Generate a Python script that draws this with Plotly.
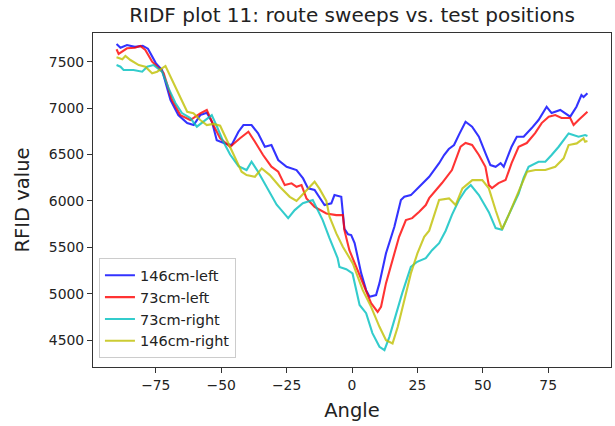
import plotly.graph_objects as go

# ---- data ----
blue_x = [-90, -88.5, -86, -83, -80, -78, -75, -72.6, -69.4, -66.4, -63, -60.5, -58, -55.5, -53.5, -51.7,
          -48.5, -46, -43.4, -41.5, -38.4, -35.9, -33.3, -30.8, -28.2, -25, -21.2, -18.7, -16.8, -14.3,
          -10.5, -7.9, -6.7, -4.1, -2.9, -1.5, -0.3, 1, 3.5, 5.4, 6.7, 9.2, 10.5, 13, 16.2, 18.7, 20, 22.5,
          25.7, 29.5, 33.3, 35.2, 37, 39, 41, 43.4, 45.9, 48.5, 51, 52.9, 54.9, 56.8, 58, 61, 63, 65.6,
          68.7, 71.3, 74.4, 76.3, 79.6, 83.4, 85.8, 87.7, 88.5, 90]
blue_y = [7690, 7650, 7680, 7660, 7670, 7640, 7485, 7410, 7088, 6925, 6840, 6818, 6925, 6950, 6850, 6655,
          6620, 6602, 6746, 6818, 6818, 6728, 6584, 6602, 6441, 6369, 6333, 6243, 6136, 6118,
          5956, 5974, 6064, 6045, 5700, 5640, 5633, 5547, 5223, 5040, 4968, 4986, 5115, 5438, 5722, 6010,
          6045, 6063, 6153, 6260, 6407, 6495, 6560, 6603, 6720, 6853, 6800, 6692, 6515, 6387, 6368, 6407,
          6368, 6585, 6692, 6692, 6785, 6872, 7015, 6947, 6980, 6908, 7015, 7141, 7120, 7160]

red_x = [-90, -89.2, -86, -83, -80.9, -79, -76.4, -72, -68.8, -65.6, -61.8, -58, -55.5, -53, -50.4, -46.6,
         -42.8, -39.6, -37.1, -34, -30.8, -28.2, -25.7, -23.1, -21.2, -19.3, -17.4, -14.3, -9.8, -6, -3.5,
         -2.9, -1, 1, 4, 7.3, 9.8, 11.1, 13, 15.4, 18, 20.6, 23, 25.7, 28.2, 29.5, 34.4, 38.2, 41.5, 43.4,
         45.9, 48.5, 51, 52.3, 53.5, 56, 58.7, 61, 63.7, 66.8, 70, 72.5, 75.2, 77.7, 80.1, 83.4, 84.7,
         86.6, 90]
red_y = [7634, 7583, 7644, 7650, 7669, 7626, 7500, 7378, 7087, 6925, 6872, 6944, 6980, 6818, 6675, 6584,
         6675, 6746, 6638, 6495, 6369, 6315, 6171, 6190, 6153, 6171, 6028, 5937, 5866, 5848, 5848,
         5686, 5470, 5330, 5115, 4900, 4806, 4860, 5115, 5363, 5614, 5794, 5815, 5884, 5956, 6030, 6193,
         6333, 6584, 6624, 6603, 6495, 6368, 6171, 6139, 6193, 6225, 6407, 6584, 6624, 6731, 6839, 6907,
         6925, 6893, 6893, 6818, 6872, 6961]

cyan_x = [-90, -88.5, -87.3, -83.5, -80.2, -78.3, -75.9, -72.6, -70.1, -67.5, -65, -61.8, -59.3, -56.1,
          -53.6, -51.6, -49.2, -46.6, -43.4, -40.3, -38.4, -35.9, -32.6, -30.2, -28.8, -27, -24.4, -21.9,
          -18.8, -15, -13, -11.2, -8.6, -5.5, -4.8, -2.2, 0.2, 2.1, 2.9, 5.4, 7.8, 10.5, 12.4, 14.3, 16.8,
          19.2, 22.5, 24.9, 28.2, 30.6, 33.3, 35.8, 38.2, 40.9, 43.4, 45.4, 48.5, 52.3, 54.9, 57.3, 59.9,
          62.5, 63.7, 65.6, 67.5, 71.3, 73.9, 76.3, 79, 82.8, 86.6, 89.1, 90]
cyan_y = [7464, 7446, 7411, 7411, 7392, 7446, 7464, 7392, 7213, 7055, 6947, 6893, 6800, 6872,
          6925, 6800, 6640, 6500, 6375, 6333, 6423, 6315, 6150, 6045, 5960, 5902, 5815, 5902,
          5975, 6010, 5902, 5794, 5600, 5385, 5290, 5265, 5220, 4968, 4880, 4792, 4577, 4429, 4393, 4537,
          4792, 5007, 5291, 5345, 5384, 5470, 5546, 5680, 5850, 6010, 6118, 6171, 6064, 5880, 5708, 5690,
          5850, 6010, 6080, 6250, 6368, 6422, 6422, 6495, 6584, 6728, 6692, 6710, 6700]

yellow_x = [-90, -87.8, -86.6, -84.7, -81.5, -79, -76.4, -74.5, -71.3, -68.8, -65.6, -63, -60.6, -58,
            -55.5, -53, -50.4, -47.2, -44, -42.2, -40.3, -37.1, -34.5, -31.4, -27.6, -23.8, -21.2, -18,
            -14.3, -12.4, -9.8, -8.6, -6, -3.5, 0.3, 4.1, 7.3, 10.5, 13, 15.5, 17.5, 20, 22.5, 25, 27.6,
            29.5, 33.3, 37.1, 39.6, 42.2, 46, 49.8, 52.3, 54.9, 57.4, 59.9, 63.7, 66.9, 70.1, 73.9, 77.7,
            80.9, 82.8, 85.9, 88.5, 89.1, 90]
yellow_y = [7547, 7526, 7561, 7518, 7464, 7446, 7375, 7392, 7454, 7303, 7123, 6961, 6944, 6872,
            6818, 6830, 6810, 6620, 6423, 6315, 6279, 6261, 6351, 6279, 6153, 6045, 6000, 6100,
            6207, 6130, 6000, 5830, 5651, 5507, 5328, 5040, 4860, 4645, 4501, 4466, 4645, 4932, 5220, 5435,
            5614, 5680, 6010, 6028, 5956, 6136, 6225, 6225, 6136, 5900, 5695, 5850, 6100, 6315, 6333, 6333,
            6369, 6459, 6602, 6620, 6675, 6638, 6645]

series = [
    ("146cm-left", blue_x, blue_y, "rgba(0,0,255,0.8)"),
    ("73cm-left", red_x, red_y, "rgba(255,0,0,0.8)"),
    ("73cm-right", cyan_x, cyan_y, "rgba(0,191,191,0.8)"),
    ("146cm-right", yellow_x, yellow_y, "rgba(191,191,0,0.8)"),
]

x_ticks = [-75, -50, -25, 0, 25, 50, 75]
y_ticks = [4500, 5000, 5500, 6000, 6500, 7000, 7500]

FONT = "DejaVu Sans"
fig = go.Figure()
for i, (name, xs, ys, col) in enumerate(series):
    fig.add_trace(go.Scatter(x=xs, y=ys, mode="lines", name=name, legendgroup=f"g{i}",
                             line=dict(color=col, width=2.1)))

axis_common = dict(showline=True, mirror=True, linecolor="#333333", linewidth=1,
                   showgrid=False, zeroline=False, ticks="outside", ticklen=5, tickwidth=1,
                   tickcolor="#333333", automargin=False,
                   tickfont=dict(family=FONT, size=13.9, color="#222222"))

fig.update_layout(
    width=615, height=426,
    margin=dict(l=92.5, r=4, t=33, b=59.3),
    paper_bgcolor="white", plot_bgcolor="white",
    title=dict(text="RIDF plot 11: route sweeps vs. test positions", x=0.5, xref="paper",
               y=1 - 15 / 426, yref="container", yanchor="middle", xanchor="center",
               font=dict(family=FONT, size=20, color="#222222")),
    xaxis=dict(range=[-99, 99], tickvals=x_ticks, title=dict(text="Angle", standoff=11,
               font=dict(family=FONT, size=19.5, color="#222222")), **axis_common),
    yaxis=dict(range=[4212, 7809], tickvals=y_ticks, tickformat="d",
               title=dict(text="RFID value", standoff=14,
                          font=dict(family=FONT, size=19.5, color="#222222")), **axis_common),
    legend=dict(x=0.0115, y=0.026, xanchor="left", yanchor="bottom",
                bgcolor="rgba(255,255,255,0.8)", bordercolor="#cccccc", borderwidth=1,
                font=dict(family=FONT, size=14.5, color="#222222"), itemwidth=30,
                tracegroupgap=4, traceorder="normal"),
    showlegend=True,
)

fig.write_html("out.html", config={"displayModeBar": False},
               post_script="document.body.style.margin='0';")
